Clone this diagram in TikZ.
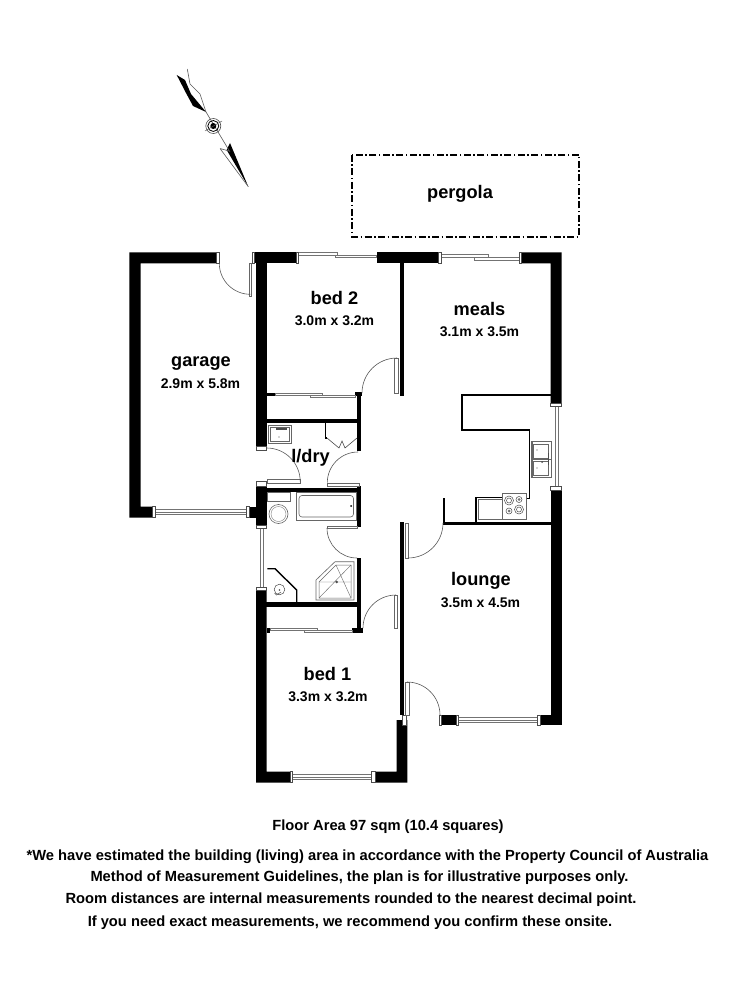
\documentclass[tikz,border=0pt]{standalone}
\usepackage{fontspec}
\setmainfont{Liberation Sans}
\begin{document}
\begin{tikzpicture}[x=1pt,y=-1pt,
  wall/.style={fill=black,draw=none},
  jamb/.style={fill=white,draw=black!70,line width=0.5pt},
  glass/.style={fill=white,draw=black!55,line width=0.6pt},
  swing/.style={draw=black!65,line width=0.6pt},
  fixture/.style={draw=black!60,line width=0.6pt,fill=white},
  thick wall/.style={draw=black,line width=2.2pt},
  room/.style={font=\bfseries\fontsize{18.2}{20}\selectfont,inner sep=0pt},
  dims/.style={font=\bfseries\fontsize{14}{16}\selectfont,inner sep=0pt},
  note/.style={font=\bfseries\fontsize{14.7}{16}\selectfont,inner sep=0pt,anchor=center}]
\useasboundingbox (0,0) rectangle (750,1000);
\fill[white] (0,0) rectangle (750,1000);
% north arrow
\fill (176.7,75) -- (185,80) -- (191,94) -- (206,112) -- (193,106) -- (186,93) -- cycle;
\draw[black!65,line width=0.6pt] (206,112) -- (200,94) -- (190,84) -- (187.3,69);
\fill (230,143) -- (226.7,150) -- (248.3,186.7) -- cycle;
\draw[black!65,line width=0.6pt] (206,112) -- (230,152) (220,148.5) -- (229,151) (220,148.5) -- (248.3,186.7);
\draw[black!70,line width=0.6pt] (213.3,126) circle (7.5);
\draw[black,line width=0.8pt] (213.3,126) circle (5.5);
\fill (213.3,126) circle (3);
\draw[black!65,line width=0.5pt] (205,131) -- (222,121);
% pergola
\draw[line width=1.2pt,dash pattern=on 7pt off 2.5pt on 1.5pt off 2.5pt] (352,155) rectangle (579,237);
% outer walls
\fill[wall] (129.3,252.3) -- (216.7,252.3) -- (216.7,263.3) -- (140.7,263.3) -- (140.7,506.7) -- (152.3,506.7) -- (152.3,517.7) -- (129.3,517.7) -- cycle;
\fill[wall] (252,252.3) rectangle (296,263.3);
\fill[wall] (256,252.3) rectangle (267,446);
\fill[wall] (377,252.3) rectangle (438.3,263.3);
\fill[wall] (521.7,252.3) -- (561.7,252.3) -- (561.7,403) -- (550.7,403) -- (550.7,263.3) -- (521.7,263.3) -- cycle;
\fill[wall] (550.7,490) rectangle (561.7,725);
\fill[wall] (540,715) rectangle (561.7,725);
\fill[wall] (441.7,715) rectangle (456,725);
\fill[wall] (249.3,506.7) rectangle (257,517.7);
\fill[wall] (256,481.7) rectangle (266.7,525);
\fill[wall] (256,590.7) -- (266.7,590.7) -- (266.7,771.7) -- (290,771.7) -- (290,782.7) -- (256,782.7) -- cycle;
\fill[wall] (375,771.7) -- (396.7,771.7) -- (396.7,720) -- (407.3,720) -- (407.3,782.7) -- (375,782.7) -- cycle;
% interior walls
\fill[wall] (400,263) rectangle (404,396);
\fill[wall] (267,419) rectangle (361,422.7);
\fill[wall] (357,393) rectangle (361,451);
\fill[wall] (355,392) rectangle (361.5,396);
\fill[wall] (267,392.5) rectangle (275,396);
\fill[wall] (267,488) rectangle (360,492);
\fill[wall] (357,486) rectangle (361,526.5);
\fill[wall] (357,558) rectangle (361,633);
\fill[wall] (266,602) rectangle (360,606.7);
\fill[wall] (352,628) rectangle (363,633);
\fill[wall] (267,628) rectangle (270,632.5);
\fill[wall] (400,521.7) rectangle (404.3,715);
\fill[wall] (443.3,522) rectangle (550.7,525);
% kitchen
\draw[thick wall,line width=1.6pt] (550.7,395) -- (462,395) -- (462,430) -- (529.5,430) -- (529.5,498.3) -- (526,498.3);
\draw[thick wall,line width=1.6pt] (476,523) -- (476,497.5) -- (503,497.5);
\draw[thick wall,line width=1.6pt] (444,498) -- (444,523);
\fill[fixture] (478.5,499) rectangle (502,519);
\fill[fixture] (502.7,493) rectangle (526,519);
\draw[black!70,line width=0.5pt,fill=white] (509,500.5) circle (4.5) (509,500.5) circle (2.5) (519,499.5) circle (3) (509,511) circle (3) (519,509.5) circle (4.5) (519,509.5) circle (2.5);
\fill[black!55] (519,499.5) circle (1.5) (509,511) circle (1.5);
\draw[fixture] (531,441.7) rectangle (551.7,477);
\draw[black!60,line width=0.5pt] (532.5,441.7) -- (532.5,477) (532.5,459.3) -- (551.7,459.3);
\draw[black!60,line width=0.5pt] (533,444) rectangle (548,458) (533,461) rectangle (548,475);
\fill[black!70] (548,453) rectangle (549,465);
\fill[black!70] (542,462) circle (1) (537,450) circle (0.7) (537,468) circle (0.7);
% windows
\draw[glass] (155,509.5) rectangle (246.7,514.5);
\draw[black!55,line width=0.4pt] (155,512) -- (246.7,512);
\draw[glass] (298,252.5) rectangle (337.5,255);
\draw[glass] (335.5,255) rectangle (376,257.5);
\draw[glass] (441.7,254) rectangle (488,257);
\draw[glass] (474,257) rectangle (520,260);
\draw[glass] (555,406.7) rectangle (558,486.7);
\draw[glass] (259.8,528) rectangle (263.2,587);
\draw[glass] (292.7,774.5) rectangle (371.7,779.5);
\draw[black!55,line width=0.4pt] (292.7,777) -- (371.7,777);
\draw[glass] (458.3,717.5) rectangle (537.3,722.5);
\draw[black!55,line width=0.4pt] (458.3,720) -- (537.3,720);
% sliding doors
\draw[glass] (275,393) rectangle (322,395.2);
\draw[glass] (310,395.2) rectangle (355,397);
\draw[glass] (270,628.3) rectangle (317,630.3);
\draw[glass] (304,630.3) rectangle (352,632.3);
% jambs
\foreach \a/\b/\c/\d in {216.7/252.3/219.3/263.3,252/252.3/254.5/263.3,296/252.3/298/263.3,438.3/252.3/441.7/263.3,519.5/252.3/521.7/263.3,550.7/403/561.7/406.7,550.7/486.7/561.7/490,537.3/715/540/725,456/715/458.3/725,439/715/441.7/725,152.3/506.7/155/517.7,246.7/506.7/249.3/517.7,256/446/266.7/450,256/481.7/266.7/486,256/525/266.7/528,256/587/266.7/590.7,290/771.7/292.7/782.7,371.7/771.7/375/782.7,402.5/715/406.5/725}
  \draw[jamb] (\a,\b) rectangle (\c,\d);
% doors (the y axis points down, so angle 90 is down and 270 is up)
\draw[fixture] (249.3,263.3) rectangle (251.7,296.7);
\draw[swing] (219.3,263.3) arc[start angle=180,end angle=90,radius=31];
\draw[fixture] (394,358) rectangle (398,393);
\draw[swing] (362,393) arc[start angle=180,end angle=270,radius=35];
\draw[fixture] (267,479) rectangle (300,483);
\draw[swing] (266.7,448) arc[start angle=270,end angle=360,radius=33.5];
\draw[fixture] (327.3,483) rectangle (359,486);
\draw[swing] (358,452) arc[start angle=270,end angle=180,radius=30.7];
\draw[fixture] (327,526) rectangle (357,528);
\draw[swing] (327,528) arc[start angle=180,end angle=90,radius=30];
\draw[fixture] (394,595) rectangle (397.3,628);
\draw[swing] (363,628) arc[start angle=180,end angle=270,radius=33];
\draw[fixture] (405,523) rectangle (408,558);
\draw[swing] (408,558) arc[start angle=90,end angle=0,radius=35];
\draw[fixture] (405.5,682) rectangle (409,715);
\draw[swing] (407,682) arc[start angle=270,end angle=360,radius=33];
% laundry
\draw[fixture] (268,425) rectangle (291,443);
\draw[black!60,line width=0.4pt] (270,427) rectangle (289,441);
\fill[black!70] (276,428) rectangle (287,429.5);
\fill[black!70] (279,437) circle (0.7);
\draw[thick wall,line width=1.6pt] (325.5,422) -- (325.5,438) -- (327,438);
\draw[black!70,line width=0.6pt] (327,438) -- (339,448) -- (342,441) -- (345,448) -- (357,438);
% bath
\draw[fixture] (296.7,492.7) rectangle (356.7,520);
\draw[black!60,line width=0.6pt,rounded corners=3pt] (299,495.5) rectangle (353.5,517);
\fill (351,506) circle (1);
\draw[fixture] (267,492.7) rectangle (290,501.7);
\draw[fixture] (278.5,514) circle (9.5);
\draw[black!50,line width=0.4pt] (278.5,514) circle (7.5);
% shower
\draw[fixture] (316,600) -- (316,580) -- (335,561.7) -- (354,561.7) -- (354,600) -- cycle;
\draw[black!60,line width=0.5pt] (319,598) -- (319,582) -- (336,565) -- (351,565) -- (351,598) -- cycle;
\draw[black!60,line width=0.4pt] (319,598) -- (351,565) (336,565) -- (351,598) (319,582) -- (351,582);
\fill[black!70] (336.7,582) circle (1.4);
% WC
\draw[thick wall,line width=1.4pt] (267.3,568.7) -- (275,568.7) -- (296.7,590) -- (296.7,602);
\draw[black!70,line width=0.5pt] (279.5,589.5) circle (5.3);
\fill[black!70] (279.5,590) circle (0.8);
\draw[black!70,line width=0.5pt] (274.5,593) -- (276.5,595) -- (281,592);
% text
\node[room] (n1) at (201,364) {garage};
\node[dims] (n2) at (200.5,384) {2.9m x 5.8m};
\node[room] (n3) at (334.5,297.5) {bed 2};
\node[dims] (n4) at (334.5,321) {3.0m x 3.2m};
\node[room] (n5) at (479.5,308.5) {meals};
\node[dims] (n6) at (479.5,332) {3.1m x 3.5m};
\node[room] (n7) at (310.5,458) {l/dry};
\node[room] (n8) at (481,581) {lounge};
\node[dims] (n9) at (480.5,603) {3.5m x 4.5m};
\node[room] (n10) at (327.5,674) {bed 1};
\node[dims] (n11) at (328,697) {3.3m x 3.2m};
\node[room] (n12) at (460,194) {pergola};
\node[note] (n13) at (388,827) {Floor Area 97 sqm (10.4 squares)};
\node[note] (n14) at (367.5,857) {*We have estimated the building (living) area in accordance with the Property Council of Australia};
\node[note] (n15) at (359.5,878) {Method of Measurement Guidelines, the plan is for illustrative purposes only.};
\node[note] (n16) at (351,900) {Room distances are internal measurements rounded to the nearest decimal point.};
\node[note] (n17) at (350,923) {If you need exact measurements, we recommend you confirm these onsite.};
\end{tikzpicture}
\end{document}
